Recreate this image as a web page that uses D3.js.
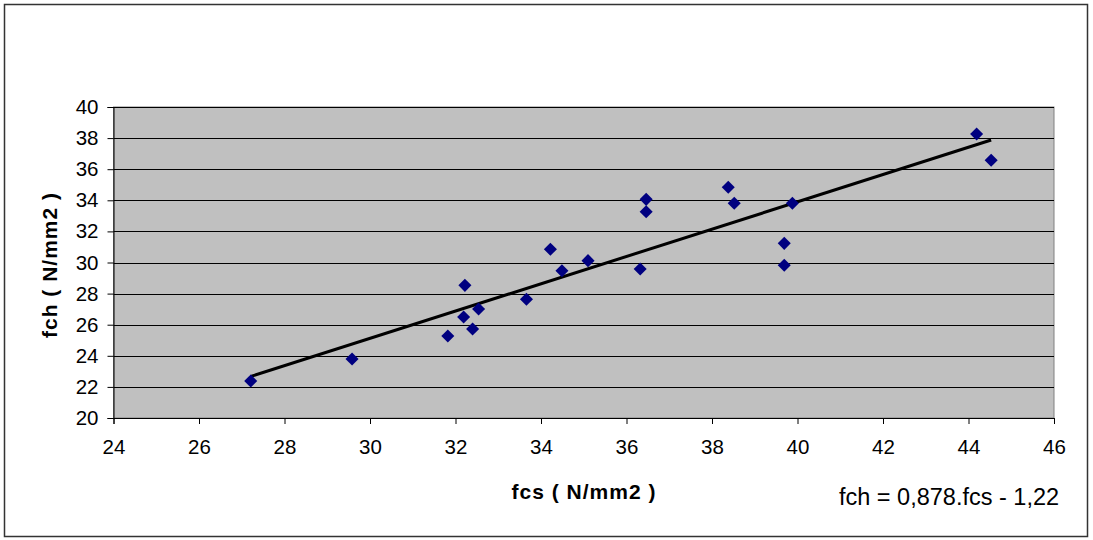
<!DOCTYPE html>
<html>
<head>
<meta charset="utf-8">
<script src="https://cdn.jsdelivr.net/npm/d3@7"></script>
<style>
  body { margin: 0; background: #fff; }
  text { font-family: "Liberation Sans", Arial, sans-serif; }
</style>
</head>
<body>
<div id="chart"></div>
<script>
// measured values
var fcs = [27.21, 29.58, 31.82, 32.19, 32.22, 32.40, 32.54, 33.66, 34.22, 34.49, 35.10,
           36.32, 36.46, 36.46, 38.38, 38.52, 39.69, 39.69, 39.88, 44.19, 44.53];
var fch = [22.38, 23.79, 25.27, 26.50, 28.53, 25.72, 27.01, 27.63, 30.85, 29.47, 30.12,
           29.58, 34.06, 33.27, 34.84, 33.81, 31.23, 29.82, 33.81, 38.26, 36.58];
var xTicks = [24, 26, 28, 30, 32, 34, 36, 38, 40, 42, 44, 46];
var yTicks = [20, 22, 24, 26, 28, 30, 32, 34, 36, 38, 40];
var slope = 0.878, intercept = -1.22;

var width = 1093, height = 540;

var svg = d3.select("#chart")
    .append("svg")
    .attr("width", width)
    .attr("height", height);

// outer frame
svg.append("rect")
    .attr("x", 4.5).attr("y", 4.5)
    .attr("width", 1083).attr("height", 532)
    .attr("fill", "#fff")
    .attr("stroke", "#333")
    .attr("stroke-width", 1.5);

var x = d3.scaleLinear().domain([24, 46]).range([113.5, 1054]);
var y = d3.scaleLinear().domain([20, 40]).range([418, 107]);

// plot area
svg.append("rect")
    .attr("x", x(24)).attr("y", y(40))
    .attr("width", x(46) - x(24)).attr("height", y(20) - y(40))
    .attr("fill", "#c0c0c0")
    .attr("stroke", "#808080");

// gridlines
svg.append("g")
    .selectAll("line")
    .data(yTicks.filter(function(d) { return d > 20; }))
    .enter()
    .append("line")
    .attr("x1", x(24)).attr("x2", x(46))
    .attr("y1", function(d) { return Math.round(y(d)) + 0.5; })
    .attr("y2", function(d) { return Math.round(y(d)) + 0.5; })
    .attr("stroke", "#000")
    .attr("stroke-width", 1);

var xAxis = svg.append("g")
    .attr("transform", "translate(0," + y(20) + ")")
    .call(d3.axisBottom(x).tickValues(xTicks).tickSize(6).tickPadding(15).tickFormat(d3.format("d")));

var yAxis = svg.append("g")
    .attr("transform", "translate(" + x(24) + ",0)")
    .call(d3.axisLeft(y).tickValues(yTicks).tickSize(6).tickPadding(9).tickFormat(d3.format("d")));

[xAxis, yAxis].forEach(function(a) {
    a.select(".domain").attr("stroke", "#000");
    a.selectAll(".tick line").attr("stroke", "#000");
    a.selectAll(".tick text")
        .attr("font-family", "Liberation Sans, Arial, sans-serif")
        .attr("font-size", 20.5)
        .attr("fill", "#000");
});

// trend line
svg.append("line")
    .attr("x1", x(d3.min(fcs))).attr("y1", y(slope * d3.min(fcs) + intercept))
    .attr("x2", x(d3.max(fcs))).attr("y2", y(slope * d3.max(fcs) + intercept))
    .attr("stroke", "#000")
    .attr("stroke-width", 3);

// points
var diamond = d3.symbol().type(d3.symbolSquare).size(85);
svg.append("g")
    .selectAll("path")
    .data(fcs)
    .enter()
    .append("path")
    .attr("d", diamond)
    .attr("transform", function(d, i) {
        return "translate(" + x(d) + "," + y(fch[i]) + ") rotate(45)";
    })
    .attr("fill", "#000080");

// titles
svg.append("text")
    .attr("x", 584).attr("y", 499)
    .attr("text-anchor", "middle")
    .attr("font-size", 21)
    .attr("font-weight", "bold")
    .attr("letter-spacing", 1)
    .text("fcs ( N/mm2 )");

svg.append("text")
    .attr("transform", "translate(57,265) rotate(-90)")
    .attr("text-anchor", "middle")
    .attr("font-size", 21)
    .attr("font-weight", "bold")
    .attr("letter-spacing", 1)
    .text("fch ( N/mm2 )");

svg.append("text")
    .attr("x", 949).attr("y", 505)
    .attr("text-anchor", "middle")
    .attr("font-size", 23.5)
    .text("fch = 0,878.fcs - 1,22");
</script>
</body>
</html>
